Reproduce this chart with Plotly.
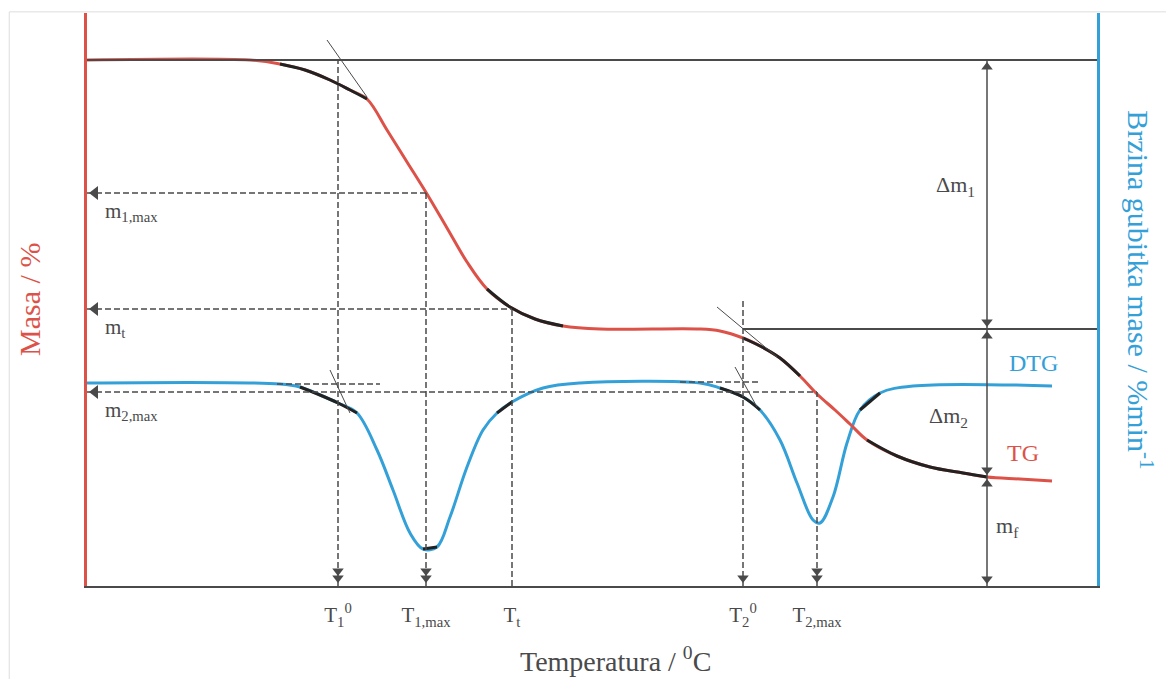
import plotly.graph_objects as go

# schematic TG / DTG curves, temperature and mass in drawing units
tg_temp = [0, 163, 193, 218, 243, 263, 280, 300, 320, 340, 360, 380, 400, 423, 448, 476, 513,
           613, 633, 656, 675, 693, 713, 730, 748, 763, 780, 810, 843, 876, 900, 933, 965]
tg_mass = [526, 526, 522, 516, 506, 496, 487, 456, 424, 392, 358, 324, 297, 279, 267, 260, 257,
           257, 255, 248, 239, 228, 210, 192, 176, 162, 146, 130, 119, 113, 109, 107, 105]

dtg_temp = [0, 193, 213, 233, 251, 270, 290, 306, 323, 336, 350, 363, 380, 396, 410, 425, 456, 493,
            613, 633, 656, 673, 693, 710, 726, 733, 746, 760, 773, 793, 826, 965]
dtg_rate = [203, 202, 199, 191, 183, 173, 136, 96, 53, 37, 39, 69, 119, 156, 173, 184, 198, 203,
            203, 198, 189, 176, 146, 103, 66, 63, 89, 143, 176, 193, 200, 200]

# thicker dark pieces drawn over the curves (index ranges)
tg_dark = [(2, 7), (12, 16), (19, 23), (26, 31)]
dtg_dark = [(2, 6), (9, 11), (14, 16), (19, 22), (28, 30)]

# characteristic temperatures and masses
temp_names = ["T<sub>1</sub><sup>0</sup>", "T<sub>1,max</sub>", "T<sub>t</sub>",
              "T<sub>2</sub><sup>0</sup>", "T<sub>2,max</sub>"]
temp_vals = [251, 339, 425, 656, 730]
temp_tops = [526, 393, 279, 286, 194]
temp_arrows = [2, 2, 0, 1, 2]

mass_names = ["m<sub>1,max</sub>", "m<sub>t</sub>", "m<sub>2,max</sub>"]
mass_vals = [393, 277, 194]
mass_ends = [339, 425, 730]

m_start = 526
m_step = 257
m_final = 109
x_bracket = 900

RED = "rgb(221,82,72)"
BLUE = "rgb(52,160,216)"
GREY = "#4a4a4a"
FONT = "Liberation Serif"
DASH = "6px,3px"

fig = go.Figure()

# reference lines
shapes = [
    dict(type="line", x0=0, x1=1010, y0=m_start, y1=m_start, line=dict(color=GREY, width=2)),
    dict(type="line", x0=temp_vals[3], x1=1010, y0=m_step, y1=m_step, line=dict(color=GREY, width=2)),
    dict(type="line", x0=x_bracket, x1=x_bracket, y0=0, y1=m_start, line=dict(color=GREY, width=1.5)),
    # tangents
    dict(type="line", x0=240, x1=280, y0=546, y1=489, line=dict(color=GREY, width=1)),
    dict(type="line", x0=630, x1=690, y0=279, y1=229, line=dict(color=GREY, width=1)),
    dict(type="line", x0=243, x1=263, y0=216, y1=173, line=dict(color=GREY, width=1)),
    dict(type="line", x0=648, x1=670, y0=219, y1=179, line=dict(color=GREY, width=1)),
    # short baseline extensions
    dict(type="line", x0=190, x1=293, y0=202, y1=202, line=dict(color=GREY, width=1.5, dash=DASH)),
    dict(type="line", x0=593, x1=673, y0=204, y1=204, line=dict(color=GREY, width=1.5, dash=DASH)),
]
for t, top in zip(temp_vals, temp_tops):
    shapes.append(dict(type="line", x0=t, x1=t, y0=0, y1=top,
                       line=dict(color=GREY, width=1.5, dash=DASH)))
for m, end in zip(mass_vals, mass_ends):
    shapes.append(dict(type="line", x0=0, x1=end, y0=m, y1=m,
                       line=dict(color=GREY, width=1.5, dash=DASH)))
# faint outer frame of the original figure
shapes.append(dict(type="path", xref="paper", yref="paper",
                   path="M -0.077,-0.17 L -0.077,1.002 L 1.1,1.002",
                   line=dict(color="#dddddd", width=1)))
fig.update_layout(shapes=shapes)

# curves
fig.add_trace(go.Scatter(x=dtg_temp, y=dtg_rate, mode="lines", line=dict(color=BLUE, width=3, shape="spline"),
                         hoverinfo="skip"))
fig.add_trace(go.Scatter(x=tg_temp, y=tg_mass, mode="lines", line=dict(color=RED, width=3, shape="spline"),
                         hoverinfo="skip"))
for i0, i1 in tg_dark:
    fig.add_trace(go.Scatter(x=tg_temp[i0:i1], y=tg_mass[i0:i1], mode="lines",
                             line=dict(color="#222", width=3, shape="spline"), hoverinfo="skip"))
for i0, i1 in dtg_dark:
    fig.add_trace(go.Scatter(x=dtg_temp[i0:i1], y=dtg_rate[i0:i1], mode="lines",
                             line=dict(color="#222", width=3, shape="spline"), hoverinfo="skip"))

# arrow heads
down_x, down_y = [], []
for t, n in zip(temp_vals, temp_arrows):
    for k in range(n):
        down_x.append(t)
        down_y.append(8 + 7 * k)
down_x += [x_bracket, x_bracket, x_bracket]
down_y += [m_step + 7, m_final + 7, 7]
fig.add_trace(go.Scatter(x=down_x, y=down_y, mode="markers", hoverinfo="skip",
                         marker=dict(symbol="triangle-down", size=10, color=GREY)))
fig.add_trace(go.Scatter(x=[x_bracket] * 3, y=[m_start - 7, m_step - 7, m_final - 7], mode="markers",
                         hoverinfo="skip", marker=dict(symbol="triangle-up", size=10, color=GREY)))
fig.add_trace(go.Scatter(x=[8] * len(mass_vals), y=mass_vals, mode="markers", hoverinfo="skip",
                         marker=dict(symbol="triangle-left", size=12, color=GREY)))

# labels
ann = []
for name, m in zip(mass_names, mass_vals):
    ann.append(dict(x=16, y=m - 19, text=name, xanchor="left", showarrow=False,
                    font=dict(family=FONT, size=21, color=GREY)))
ann += [
    dict(x=868, y=400, text="Δm<sub>1</sub>", showarrow=False, font=dict(family=FONT, size=22, color=GREY)),
    dict(x=861, y=169, text="Δm<sub>2</sub>", showarrow=False, font=dict(family=FONT, size=22, color=GREY)),
    dict(x=920, y=59, text="m<sub>f</sub>", showarrow=False, font=dict(family=FONT, size=22, color=GREY)),
    dict(x=946, y=223, text="DTG", showarrow=False, font=dict(family=FONT, size=24, color=BLUE)),
    dict(x=936, y=133, text="TG", showarrow=False, font=dict(family=FONT, size=24, color=RED)),
    dict(x=0.523, y=-0.128, xref="paper", yref="paper", xanchor="center", yanchor="middle",
         text="Temperatura / <sup>0</sup>C", showarrow=False,
         font=dict(family=FONT, size=28, color=GREY)),
    dict(x=-0.057, y=0.5, xref="paper", yref="paper", xanchor="center", yanchor="middle",
         text="Masa / %", textangle=-90, showarrow=False,
         font=dict(family=FONT, size=30, color=RED)),
    dict(x=1.043, y=0.517, xref="paper", yref="paper", xanchor="center", yanchor="middle",
         text="Brzina gubitka mase / %min<sup>-1</sup>",
         textangle=90, showarrow=False, font=dict(family=FONT, size=30, color=BLUE)),
]
fig.update_layout(annotations=ann)

# the page body adds 8px around the figure, so the figure is made smaller by that
fig.update_layout(
    width=1166, height=671,
    margin=dict(l=79, r=77, t=5, b=93),
    plot_bgcolor="white", paper_bgcolor="white",
    showlegend=False,
    xaxis=dict(range=[0, 1010], showgrid=False, zeroline=False, showline=True, linecolor=GREY, linewidth=2,
               tickvals=temp_vals, ticktext=temp_names, ticks="outside", ticklen=9,
               tickcolor="rgba(0,0,0,0)", tickfont=dict(family=FONT, size=21, color=GREY)),
    yaxis=dict(range=[0, 573], showgrid=False, zeroline=False, showline=True, linecolor=RED, linewidth=3,
               showticklabels=False, ticks=""),
    yaxis2=dict(range=[0, 573], overlaying="y", side="right", showgrid=False, zeroline=False, showline=True,
                linecolor=BLUE, linewidth=3, showticklabels=False, ticks=""),
)
# empty trace so the right axis line is drawn
fig.add_trace(go.Scatter(x=[], y=[], yaxis="y2"))

fig.write_html("out.html")
